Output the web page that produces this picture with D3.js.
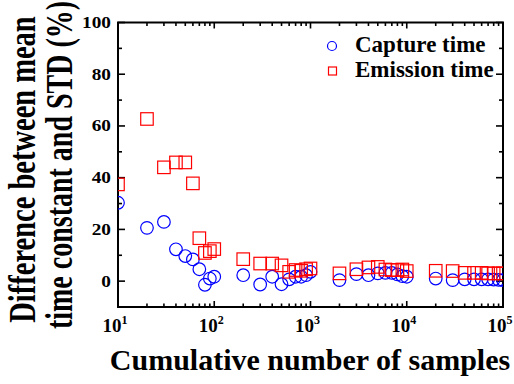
<!DOCTYPE html>
<html>
<head>
<meta charset="utf-8">
<script src="https://cdnjs.cloudflare.com/ajax/libs/d3/7.8.5/d3.min.js"></script>
<style>
  body { margin: 0; background: #fff; }
  svg text { font-family: "Liberation Serif", "Times New Roman", serif; font-weight: bold; fill: #000; }
</style>
</head>
<body>
<div id="chart"></div>
<script>
// samples counts (x) and difference (%) for each series
var captureN = [10, 20, 30, 40, 50, 60, 70, 80, 90, 100, 200, 300, 400, 500, 600, 700, 800, 900, 1000,
  2000, 3000, 4000, 5000, 6000, 7000, 8000, 9000, 10000, 20000, 30000, 40000, 50000, 60000, 70000, 80000, 90000, 100000];
var captureVal = [30.3, 20.6, 22.9, 12.3, 9.7, 8.4, 4.6, -1.4, 1.0, 1.7, 2.3, -1.3, 1.7, -1.2, 0.7, 1.7, 1.7, 2.3, 3.6,
  0.4, 2.7, 2.3, 3.0, 3.2, 3.2, 2.6, 1.9, 1.7, 1.0, 0.4, 0.7, 0.7, 0.7, 0.7, 0.6, 0.5, 0.4];

var emissionN = captureN;
var emissionVal = [37.4, 62.7, 44.0, 45.9, 45.9, 37.8, 16.6, 10.9, 11.6, 12.4, 8.5, 6.8, 6.8, 6.1, 3.6, 4.3, 4.0, 4.6, 4.9,
  3.0, 4.6, 5.3, 5.5, 4.5, 4.3, 4.3, 4.5, 3.9, 4.0, 3.9, 3.2, 3.2, 3.2, 3.0, 3.0, 3.0, 3.0];

var yTicks = [0, 20, 40, 60, 80, 100];
var xDecades = [1, 2, 3, 4, 5];
var legendLabels = ["Capture time", "Emission time"];

var W = 514, H = 384;
var margin = {left: 118, top: 22.5, right: 11, bottom: 77};
var pw = W - margin.left - margin.right, ph = H - margin.top - margin.bottom;

var svg = d3.select("#chart").append("svg").attr("width", W).attr("height", H);

var x = d3.scaleLog().domain([10, 100000]).range([0, pw]);
var y = d3.scaleLinear().domain([-10, 100]).range([ph, 0]);

var g = svg.append("g").attr("transform", "translate(" + margin.left + "," + margin.top + ")");

g.append("clipPath").attr("id", "clip").append("rect").attr("width", pw).attr("height", ph);

// minor tick positions
var xMinor = [];
for (var d = 1; d < 5; d++) for (var m = 2; m <= 9; m++) xMinor.push(m * Math.pow(10, d));
var xMajor = xDecades.map(function(e) { return Math.pow(10, e); });
var yMinor = d3.range(-10, 101, 10).filter(function(v) { return yTicks.indexOf(v) < 0; });

function tickLines(sel, vals, len, horizontal, pos, dir) {
  sel.selectAll(null).data(vals).enter().append("line")
    .attr("stroke", "#000").attr("stroke-width", 1.6)
    .attr("x1", function(v) { return horizontal ? x(v) : pos; })
    .attr("x2", function(v) { return horizontal ? x(v) : pos + dir * len; })
    .attr("y1", function(v) { return horizontal ? pos : y(v); })
    .attr("y2", function(v) { return horizontal ? pos + dir * len : y(v); });
}
var ticks = g.append("g");
tickLines(ticks, xMajor, 6, true, ph, -1);
tickLines(ticks, xMinor, 3.5, true, ph, -1);
tickLines(ticks, xMajor, 6, true, 0, 1);
tickLines(ticks, xMinor, 3.5, true, 0, 1);
tickLines(ticks, yTicks, 7, false, 0, 1);
tickLines(ticks, yMinor, 4, false, 0, 1);
tickLines(ticks, yTicks, 7, false, pw, -1);
tickLines(ticks, yMinor, 4, false, pw, -1);

g.append("rect").attr("width", pw).attr("height", ph)
  .attr("fill", "none").attr("stroke", "#000").attr("stroke-width", 2);

// tick labels (the source fonts look a bit wide, so stretch horizontally)
g.selectAll(".ylab").data(yTicks).enter().append("text")
  .attr("transform", function(v) { return "translate(-7," + (y(v) + 5.5) + ") scale(1.17,1)"; })
  .attr("text-anchor", "end").style("font-size", "16.5px")
  .text(function(v) { return v; });

var xl = g.selectAll(".xlab").data(xDecades).enter().append("text")
  .attr("x", function(e) { return x(Math.pow(10, e)) - 3; })
  .attr("y", ph + 25)
  .attr("text-anchor", "middle").style("font-size", "19px");
xl.append("tspan").text("10");
xl.append("tspan").attr("dy", -8).style("font-size", "12px").text(function(e) { return e; });

// points
var pts = g.append("g").attr("clip-path", "url(#clip)");
pts.selectAll(".cap").data(captureN).enter().append("circle")
  .attr("cx", function(n) { return x(n); })
  .attr("cy", function(n, i) { return y(captureVal[i]); })
  .attr("r", 6.3).attr("fill", "none").attr("stroke", "#0000ff").attr("stroke-width", 1.2);
var s = 12.5;
pts.selectAll(".emi").data(emissionN).enter().append("rect")
  .attr("x", function(n) { return x(n) - s / 2; })
  .attr("y", function(n, i) { return y(emissionVal[i]) - s / 2; })
  .attr("width", s).attr("height", s)
  .attr("fill", "none").attr("stroke", "#ff0000").attr("stroke-width", 1.2);

// legend
var lg = svg.append("g");
lg.append("circle").attr("cx", 332).attr("cy", 46).attr("r", 4.5)
  .attr("fill", "none").attr("stroke", "#0000ff").attr("stroke-width", 1.2);
lg.append("rect").attr("x", 328.5).attr("y", 67).attr("width", 8).attr("height", 8)
  .attr("fill", "none").attr("stroke", "#ff0000").attr("stroke-width", 1.2);
lg.selectAll(".lt").data(legendLabels).enter().append("text")
  .attr("x", 355).attr("y", function(t, i) { return 52 + i * 25; })
  .style("font-size", "23px").text(function(t) { return t; });

// axis titles
svg.append("text").attr("x", 310).attr("y", 370).attr("text-anchor", "middle")
  .style("font-size", "30px").text("Cumulative number of samples");
svg.append("text").attr("transform", "translate(35,169.5) scale(1.35,1) rotate(-90)")
  .attr("text-anchor", "middle").style("font-size", "28.5px").text("Difference between mean");
svg.append("text").attr("transform", "translate(71.5,165) scale(1.35,1) rotate(-90)")
  .attr("text-anchor", "middle").style("font-size", "28px").text("time constant and STD (%)");
</script>
</body>
</html>
